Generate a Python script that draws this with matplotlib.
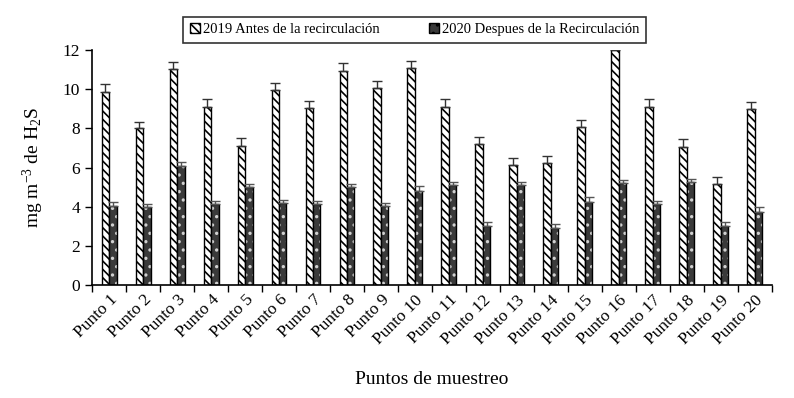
import matplotlib.pyplot as plt
import numpy as np

plt.rcParams["font.family"] = ["Liberation Serif", "DejaVu Serif"]
plt.rcParams["mathtext.fontset"] = "custom"
plt.rcParams["mathtext.rm"] = "Liberation Serif"
plt.rcParams["mathtext.it"] = "Liberation Serif"
plt.rcParams["hatch.linewidth"] = 1.2

puntos = [f"Punto {i}" for i in range(1, 21)]

antes_2019 = [9.87, 8.0, 11.03, 9.1, 7.12, 9.96, 9.06, 10.95, 10.05, 11.1,
              9.11, 7.19, 6.13, 6.22, 8.06, 12.0, 9.11, 7.07, 5.14, 8.98]
err_2019 = [0.38, 0.35, 0.38, 0.39, 0.41, 0.38, 0.36, 0.38, 0.37, 0.36,
            0.38, 0.39, 0.37, 0.37, 0.37, 0.38, 0.38, 0.37, 0.38, 0.36]

despues_2020 = [4.05, 3.97, 6.1, 4.14, 4.99, 4.17, 4.14, 4.99, 4.05, 4.82,
                5.11, 3.03, 5.11, 2.9, 4.26, 5.2, 4.12, 5.28, 3.03, 3.75]
err_2020 = [0.17, 0.16, 0.17, 0.16, 0.17, 0.18, 0.16, 0.17, 0.16, 0.24,
            0.17, 0.2, 0.17, 0.22, 0.22, 0.16, 0.17, 0.14, 0.2, 0.25]

x = np.arange(len(puntos))
w = 0.22

fig = plt.figure(figsize=(7.94, 3.98), dpi=100)
ax = fig.add_axes([0.116, 0.284, 0.856, 0.59])

# 2019: white with diagonal hatch
b1 = ax.bar(x - w / 2, antes_2019, w, color="white", edgecolor="black",
            hatch="\\\\\\\\", linewidth=1.0, zorder=2)
ax.errorbar(x - w / 2, antes_2019, yerr=[np.zeros(len(x)), err_2019],
            fmt="none", ecolor="#333333", elinewidth=1.0, capsize=3.5,
            capthick=1.0, zorder=3)

# 2020: dark with light dots
ax.bar(x + w / 2, despues_2020, w, color="#3a3a3a", edgecolor="#d0d0d0",
       hatch="..", linewidth=0, zorder=2)
ax.bar(x + w / 2, despues_2020, w, fill=False, edgecolor="black",
       linewidth=1.0, zorder=2.5)
ax.errorbar(x + w / 2, despues_2020, yerr=[np.zeros(len(x)), err_2020],
            fmt="none", ecolor="#555555", elinewidth=1.0, capsize=3.5,
            capthick=1.0, zorder=3)

ax.set_xlim(-0.5, len(x) - 0.5)
ax.set_ylim(0, 12)
ax.set_yticks(np.arange(0, 13, 2))
ax.tick_params(axis="y", labelsize=12.5, direction="out", length=5, width=1)

# ticks at category borders, labels at centres
ax.set_xticks(np.arange(-0.5, len(x), 1))
ax.set_xticklabels([])
ax.tick_params(axis="x", which="major", direction="out", length=5, width=1)
ax.set_xticks(x, minor=True)
ax.set_xticklabels(puntos, minor=True, rotation=45, ha="right",
                   rotation_mode="anchor", fontsize=12.5)
ax.tick_params(axis="x", which="minor", length=0, pad=5)

for side in ["top", "right"]:
    ax.spines[side].set_visible(False)
ax.spines["left"].set_linewidth(1.2)
ax.spines["bottom"].set_linewidth(1.2)

ax.set_ylabel("mg m$^{-3}$ de H$_2$S", fontsize=14, labelpad=12)
ax.set_xlabel("Puntos de muestreo", fontsize=14, labelpad=17)

leg_handle = plt.Rectangle((0, 0), 1, 1, facecolor="#3a3a3a",
                           edgecolor="black", hatch="..")
leg = fig.legend([b1, leg_handle],
                 ["2019 Antes de la recirculación",
                  "2020 Despues de la Recirculación"],
                 ncol=2, loc="center", bbox_to_anchor=(0.522, 0.925),
                 fontsize=10.5, frameon=True, fancybox=False,
                 handlelength=0.7, handleheight=0.7, handletextpad=0.2,
                 columnspacing=3.4, borderpad=0.45, borderaxespad=0)
leg.get_frame().set_edgecolor("black")
leg.get_frame().set_linewidth(1.2)

fig.savefig("out.png", dpi=100)
